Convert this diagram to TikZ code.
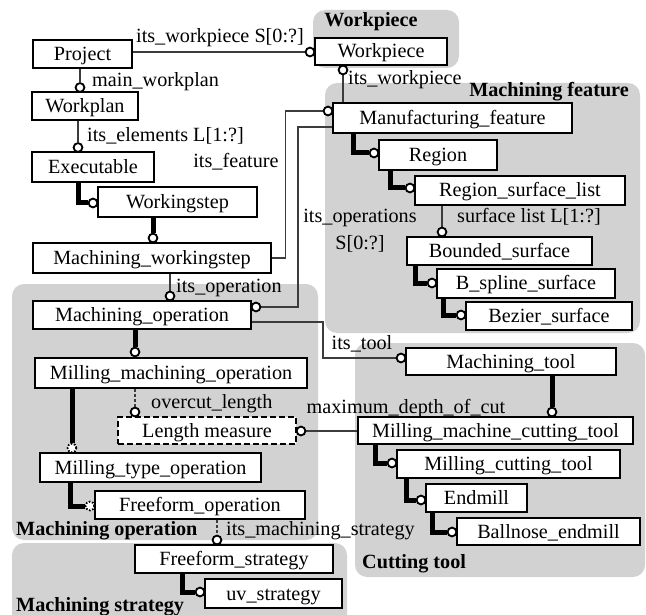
\documentclass[tikz,border=0pt]{standalone}
\usepackage{fontspec}
\setmainfont{Liberation Serif}
\newcommand\figfont{\fontsize{20.2}{24}\selectfont}
\definecolor{grpgray}{RGB}{210,210,210}
\definecolor{linegray}{RGB}{60,60,60}
\pgfdeclarelayer{bg}
\pgfdeclarelayer{lines}
\pgfsetlayers{bg,lines,main}
\begin{document}
\begin{tikzpicture}[x=1pt,y=-1pt,
 grp/.style={fill=grpgray, rounded corners=12pt},
 box/.style={draw=black, line width=2.2pt, fill=white, inner sep=0pt, font=\figfont, text height=15.5pt, text depth=2.5pt},
 dbox/.style={box, dash pattern=on 6pt off 3pt},
 lab/.style={inner sep=0pt, font=\figfont, text height=14pt, text depth=4pt},
 glab/.style={lab, font=\figfont\bfseries},
 circ/.style={circle, draw=black, line width=1.8pt, fill=white, minimum size=8.8pt, inner sep=0pt},
 dcirc/.style={circ, dash pattern=on 1.6pt off 1.6pt},
 thin/.style={draw=linegray, line width=1.2pt},
 dthin/.style={thin, dash pattern=on 3pt off 2pt},
 thk/.style={draw=black, line width=5pt},
]
\useasboundingbox (0,0) rectangle (646,615);

% groups
\begin{pgfonlayer}{bg}
\fill[grp] (313,10) rectangle (459,68);
\fill[grp] (325,83) rectangle (640,333);
\fill[grp] (12,284) rectangle (318,540);
\fill[grp] (12,543) rectangle (347,640);
\fill[grp] (355,343) rectangle (645,577);
\end{pgfonlayer}

\node[glab] (gwp) at (371,22) {Workpiece};
\node[glab, anchor=east] (gmf) at (629,92) {Machining feature};
\node[glab, anchor=west] (gmo) at (16,530) {Machining operation};
\node[glab, anchor=west] (gms) at (16,606) {Machining strategy};
\node[glab, anchor=west] (gct) at (362,563) {Cutting tool};

% boxes
\node[box, minimum width=132pt, minimum height=27pt] (wp) at (381,51.5) {Workpiece};
\node[box, minimum width=99pt, minimum height=28pt] (proj) at (82.5,54) {Project};
\node[box, minimum width=106pt, minimum height=28pt] (wplan) at (85,106) {Workplan};
\node[box, minimum width=122pt, minimum height=30pt] (exe) at (93,167) {Executable};
\node[box, minimum width=159pt, minimum height=30pt] (ws) at (177.5,202) {Workingstep};
\node[box, minimum width=238pt, minimum height=30pt] (mws) at (152,258) {Machining\_workingstep};
\node[box, minimum width=239pt, minimum height=30pt] (mf) at (452.5,118) {Manufacturing\_feature};
\node[box, minimum width=118pt, minimum height=30pt] (reg) at (438,155) {Region};
\node[box, minimum width=210pt, minimum height=29pt] (rsl) at (520,190.5) {Region\_surface\_list};
\node[box, minimum width=185pt, minimum height=28pt] (bs) at (499.5,251) {Bounded\_surface};
\node[box, minimum width=178pt, minimum height=29pt] (bsp) at (526,283.5) {B\_spline\_surface};
\node[box, minimum width=166pt, minimum height=28pt] (bez) at (549,316) {Bezier\_surface};
\node[box, minimum width=218pt, minimum height=28pt] (mo) at (142,315) {Machining\_operation};
\node[box, minimum width=272pt, minimum height=30pt] (mmo) at (171,373) {Milling\_machining\_operation};
\node[dbox, minimum width=178pt, minimum height=27pt] (lm) at (207,430.5) {Length measure};
\node[box, minimum width=221pt, minimum height=29pt] (mto) at (150.5,467.5) {Milling\_type\_operation};
\node[box, minimum width=210pt, minimum height=28pt] (fo) at (200,505) {Freeform\_operation};
\node[box, minimum width=198pt, minimum height=28pt] (fs) at (234,559) {Freeform\_strategy};
\node[box, minimum width=137pt, minimum height=29pt] (uv) at (273.5,593.5) {uv\_strategy};
\node[box, minimum width=210pt, minimum height=27pt] (mt) at (511,361.5) {Machining\_tool};
\node[box, minimum width=275pt, minimum height=27pt] (mmct) at (495.5,430.5) {Milling\_machine\_cutting\_tool};
\node[box, minimum width=223pt, minimum height=28pt] (mct) at (508.5,464) {Milling\_cutting\_tool};
\node[box, minimum width=101pt, minimum height=28pt] (em) at (476.5,498) {Endmill};
\node[box, minimum width=183pt, minimum height=27pt] (bn) at (548.5,531.5) {Ballnose\_endmill};

% labels
\node[lab] (l1) at (220,38) {its\_workpiece S[0:?]};
\node[lab, anchor=west] (l2) at (92,82) {main\_workplan};
\node[lab, anchor=west] (l3) at (87,137) {its\_elements L[1:?]};
\node[lab, anchor=west] (l4) at (348,80) {its\_workpiece};
\node[lab] (l5) at (236,163) {its\_feature};
\node[lab] (l6) at (360,218) {its\_operations};
\node[lab] (l7) at (360,245) {S[0:?]};
\node[lab, anchor=west] (l8) at (457,218) {surface list L[1:?]};
\node[lab, anchor=west] (l9) at (176,287) {its\_operation};
\node[lab] (l10) at (362,344) {its\_tool};
\node[lab, anchor=west] (l11) at (151,403) {overcut\_length};
\node[lab] (l12) at (406,408) {maximum\_depth\_of\_cut};
\node[lab, anchor=west] (l13) at (226,530) {its\_machining\_strategy};

% circles
\node[circ] (cwp) at (310,52) {};
\node[circ] (cmw) at (80,87.5) {};
\node[circ] (cel) at (78,147.5) {};
\node[circ] (cwb) at (343,70) {};
\node[circ] (cft) at (328,111) {};
\node[circ] (cops) at (256,307) {};
\node[circ] (cop) at (170,296) {};
\node[circ] (ctool) at (401,358) {};
\node[circ] (cover) at (135,412) {};
\node[circ] (cmax) at (301,431) {};
\node[circ] (csl) at (442,232) {};
\node[circ] (cms) at (217,540) {};
\node[circ] (k1) at (93,203) {};
\node[circ] (k2) at (153,238) {};
\node[circ] (k3) at (374,153) {};
\node[circ] (k4) at (410,188) {};
\node[circ] (k5) at (432,283) {};
\node[circ] (k6) at (461,315) {};
\node[circ] (k7) at (135,352) {};
\node[dcirc] (k8) at (72,448) {};
\node[dcirc] (k9) at (90,506) {};
\node[circ] (k10) at (200,592) {};
\node[circ] (k11) at (552,412) {};
\node[circ] (k12) at (392,463) {};
\node[circ] (k13) at (421,500) {};
\node[circ] (k14) at (452,532) {};

\begin{pgfonlayer}{lines}
\draw[thin] (proj.east |- cwp) -- (cwp);
\draw[thin] (80,0 |- proj.south) -- (cmw);
\draw[thin] (78,0 |- wplan.south) -- (cel);
\draw[thin] (cwb) -- (cwb |- mf.north);
\draw[thin] (mws.east) -- ++(13,0) |- (cft);
\draw[thin] (mf.west |- 0,127) -- (298,127) |- (cops);
\draw[thin] (170,0 |- mws.south) -- (cop);
\draw[thin] (mo.east |- 0,322) -- (323,322) |- (ctool);
\draw[dthin] (135,0 |- mmo.south) -- (cover);
\draw[thin] (cmax) -- (mmct.west |- cmax);
\draw[thin] (442,0 |- rsl.south) -- (csl);
\draw[dthin] (217,0 |- fo.south) -- (cms);

\draw[thk] (78,0 |- exe.south) |- (k1);
\draw[thk] (153,0 |- ws.south) -- (k2);
\draw[thk] (353,0 |- mf.south) |- (k3);
\draw[thk] (390,0 |- reg.south) |- (k4);
\draw[thk] (415,0 |- bs.south) |- (k5);
\draw[thk] (443,0 |- bsp.south) |- (k6);
\draw[thk] (135,0 |- mo.south) -- (k7);
\draw[thk] (72,0 |- mmo.south) -- (k8);
\draw[thk] (70,0 |- mto.south) |- (k9);
\draw[thk] (182,0 |- fs.south) |- (k10);
\draw[thk] (552,0 |- mt.south) -- (k11);
\draw[thk] (375,0 |- mmct.south) |- (k12);
\draw[thk] (406,0 |- mct.south) |- (k13);
\draw[thk] (432,0 |- em.south) |- (k14);
\end{pgfonlayer}
\end{tikzpicture}
\end{document}
